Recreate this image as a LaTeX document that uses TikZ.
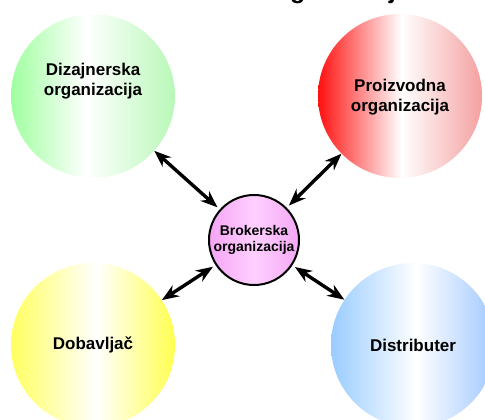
\documentclass[tikz,border=0pt]{standalone}
\usepackage{fontspec}
\setmainfont{Liberation Sans}
\usetikzlibrary{arrows.meta}
\definecolor{gL}{HTML}{A0FFA0}
\definecolor{gR}{HTML}{B8F8B8}
\definecolor{rL}{HTML}{FF1010}
\definecolor{rR}{HTML}{F4A0A0}
\definecolor{yL}{HTML}{FFFF60}
\definecolor{yR}{HTML}{FFFF50}
\definecolor{bL}{HTML}{99CCFF}
\definecolor{bR}{HTML}{A0C8FF}
\definecolor{pL}{HTML}{F4A4F4}
\definecolor{pM}{HTML}{FFD0FF}
\definecolor{pR}{HTML}{F4A8F4}
\pgfdeclarehorizontalshading{gsh}{100bp}{color(0bp)=(gL); color(25bp)=(gL); color(48bp)=(white); color(75bp)=(gR); color(100bp)=(gR)}
\pgfdeclarehorizontalshading{rsh}{100bp}{color(0bp)=(rL); color(25bp)=(rL); color(50.5bp)=(white); color(75bp)=(rR); color(100bp)=(rR)}
\pgfdeclarehorizontalshading{ysh}{100bp}{color(0bp)=(yL); color(25bp)=(yL); color(51bp)=(white); color(75bp)=(yR); color(100bp)=(yR)}
\pgfdeclarehorizontalshading{bsh}{100bp}{color(0bp)=(bL); color(25bp)=(bL); color(51bp)=(white); color(75bp)=(bR); color(100bp)=(bR)}
\pgfdeclarehorizontalshading{psh}{100bp}{color(0bp)=(pL); color(25bp)=(pL); color(50bp)=(pM); color(75bp)=(pR); color(100bp)=(pR)}
\begin{document}
\begin{tikzpicture}[x=1pt,y=-1pt,
  big/.style={circle, minimum size=164pt, inner sep=0pt},
  bigtxt/.style={font=\fontsize{17}{19.5}\selectfont\bfseries, align=center, inner sep=0pt},
  arr/.style={line width=3.4pt, {Stealth[length=17pt,width=13pt]}-{Stealth[length=17pt,width=13pt]}}]
\clip (0,0) rectangle (485,420);
\node[anchor=base west, inner sep=0pt, font=\fontsize{25}{30}\selectfont\bfseries] (title) at (265,-1) {organizacija};
\node[big, shading=gsh] (diz) at (93,96) {};
\node[bigtxt] (dizt) at (93,81) {Dizajnerska\\organizacija};
\node[big, shading=rsh] (pro) at (400,96) {};
\node[bigtxt] (prot) at (400,97) {Proizvodna\\organizacija};
\node[big, shading=ysh] (dob) at (93,345) {};
\node[bigtxt] (dobt) at (93,345) {Dobavljač};
\node[big, shading=bsh] (dis) at (413,345) {};
\node[bigtxt] (dist) at (413,345) {Distributer};
\node[circle, minimum size=90pt, inner sep=0pt, draw=black, line width=2pt, shading=psh,
  font=\fontsize{14}{16}\selectfont\bfseries, align=center] (bro) at (254,240) {Brokerska\\organizacija};
\draw[arr, shorten <=3pt] (bro) -- (diz);
\draw[arr, shorten <=3pt] (bro) -- (pro);
\draw[arr, shorten <=3pt] (bro) -- (dob);
\draw[arr, shorten <=3pt] (bro) -- (dis);
\end{tikzpicture}
\end{document}
